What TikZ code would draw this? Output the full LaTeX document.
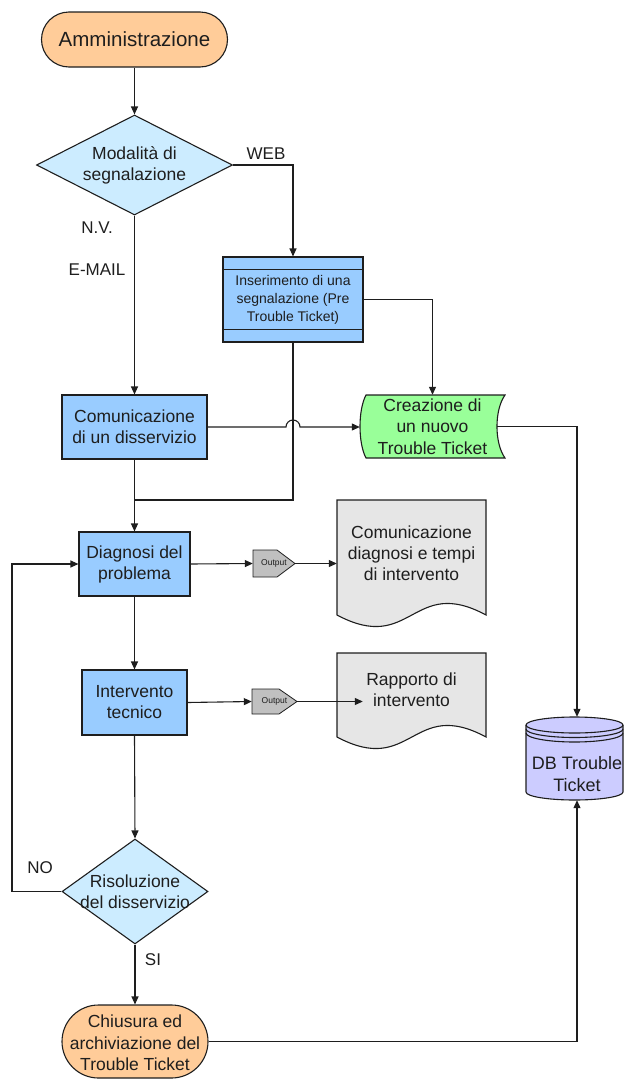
\documentclass[tikz,border=0pt]{standalone}
\usepackage{fontspec}
\setmainfont{Liberation Sans}
\usetikzlibrary{arrows.meta,shapes.geometric,shapes.misc}
\pgfdeclarelayer{bg}
\pgfsetlayers{bg,main}
\definecolor{orangef}{HTML}{FFCC99}
\definecolor{diamf}{HTML}{CCECFF}
\definecolor{boxf}{HTML}{99CCFF}
\definecolor{greenf}{HTML}{99FF99}
\definecolor{outf}{HTML}{C0C0C0}
\definecolor{docf}{HTML}{E6E6E6}
\definecolor{dbf}{HTML}{CCCCFF}
\definecolor{linec}{HTML}{1E1E1E}
\definecolor{textc}{HTML}{1E1E1E}
\begin{document}
\begin{tikzpicture}[x=1pt,y=-1pt,
  line/.style={draw=linec, line width=1.1pt},
  arr/.style={line, -{Triangle[length=8pt,width=7pt]}},
  txt/.style={font=\fontsize{17.5}{21}\selectfont, text=textc, align=center},
  lbl/.style={font=\fontsize{17}{20}\selectfont, text=textc, inner sep=0pt},
  procbox/.style={rectangle, line, fill=boxf, inner sep=0pt, txt},
  decis/.style={diamond, line, fill=diamf, inner sep=0pt},
  term/.style={rounded rectangle, line, fill=orangef, inner sep=0pt},
  ghost/.style={rectangle, draw=none, inner sep=0pt},
]
\useasboundingbox (0,0) rectangle (624,1079);

% ---------- nodes ----------
\node[term, minimum width=186pt, minimum height=55pt,
      label={[txt, font=\fontsize{20.5}{24}\selectfont]center:Amministrazione}] (amm) at (134.5,39.5) {};

\node[decis, minimum width=196pt, minimum height=100pt,
      label={[txt]center:Modalità di\\segnalazione}] (mod) at (134.5,165) {};

\node[procbox, minimum width=140pt, minimum height=85pt,
      font=\fontsize{14}{18}\selectfont] (ins) at (293,299.5)
      {Inserimento di una\\segnalazione (Pre\\Trouble Ticket)};
\draw[line] ([yshift=-13pt]ins.north west) -- ([yshift=-13pt]ins.north east);
\draw[line] ([yshift=13pt]ins.south west) -- ([yshift=13pt]ins.south east);

\node[procbox, minimum width=145pt, minimum height=64pt] (com) at (134.5,427)
      {Comunicazione\\di un disservizio};

\node[ghost, minimum width=145pt, minimum height=63pt, txt,
      font=\fontsize{17.5}{21.5}\selectfont] (cre) at (432.5,426.5)
      {Creazione di\\un nuovo\\Trouble Ticket};

\node[procbox, minimum width=111pt, minimum height=64pt] (dia) at (134.5,564)
      {Diagnosi del\\problema};

\node[ghost, minimum width=42pt, minimum height=27pt,
      font=\fontsize{8.5}{9}\selectfont, text=textc] (out1) at (274,563.5) {Output};

\node[ghost, minimum width=149pt, minimum height=115pt,
      label={[txt, yshift=4.5pt]center:Comunicazione\\diagnosi e tempi\\di intervento}] (doc1) at (411.5,557.5) {};

\node[procbox, minimum width=105pt, minimum height=65pt] (int) at (134.5,702.5)
      {Intervento\\tecnico};

\node[ghost, minimum width=45pt, minimum height=25pt,
      font=\fontsize{8.5}{9}\selectfont, text=textc] (out2) at (274.5,701.5) {Output};

\node[ghost, minimum width=97pt, minimum height=84pt,
      label={[txt, yshift=5pt]center:Rapporto di\\intervento}] (doc2) at (411.5,695) {};

\node[ghost, minimum width=97pt, minimum height=83pt,
      label={[txt, yshift=-15.5pt, font=\fontsize{18}{22}\selectfont]center:DB Trouble\\Ticket}] (db) at (577,758.5) {};

\node[decis, minimum width=146pt, minimum height=105pt,
      label={[txt]center:Risoluzione\\del disservizio}] (ris) at (135,891.5) {};

\node[term, minimum width=146pt, minimum height=73pt,
      label={[txt, yshift=-1.5pt, font=\fontsize{17.5}{21.5}\selectfont]center:Chiusura ed\\archiviazione del\\Trouble Ticket}] (chi) at (135,1041.5) {};

% labels
\node[lbl] (web) at (266,154) {WEB};
\node[lbl] (nv) at (97,228) {N.V.};
\node[lbl] (email) at (97,270) {E-MAIL};
\node[lbl] (no) at (40,868) {NO};
\node[lbl] (si) at (153,960) {SI};

% ---------- background shapes ----------
\begin{pgfonlayer}{bg}
  % Creazione (stored data)
  \filldraw[line, fill=greenf]
    (366,395) -- (505,395) .. controls (494.3,410) and (494.3,443) .. (505,458)
    -- (366,458) .. controls (358,443) and (358,410) .. (366,395) -- cycle;
  % outputs
  \filldraw[line, fill=outf, line width=0.8pt]
    (253,550) -- (277,550) -- (295,563.5) -- (277,577) -- (253,577) -- cycle;
  \filldraw[line, fill=outf, line width=0.8pt]
    (252,689) -- (279,689) -- (297,701.5) -- (279,714) -- (252,714) -- cycle;
  % documents
  \filldraw[line, fill=docf]
    (337,500) -- (486,500) -- (486,615) .. controls (412,575) and (412,655) .. (337,615) -- cycle;
  \filldraw[line, fill=docf]
    (337,653) -- (486,653) -- (486,737) .. controls (412,697) and (412,777) .. (337,737) -- cycle;
  % DB cylinder
  \filldraw[line, fill=dbf]
    (526,725) -- (526,792) arc[start angle=180, end angle=0, x radius=48.5, y radius=8]
    -- (623,725) arc[start angle=0, end angle=-180, x radius=48.5, y radius=8] -- cycle;
  \draw[line] (526,725) arc[start angle=180, end angle=0, x radius=48.5, y radius=8];
  \draw[line] (526,729) arc[start angle=180, end angle=0, x radius=48.5, y radius=8.5];
  \draw[line] (526,733) arc[start angle=180, end angle=0, x radius=48.5, y radius=9];
\end{pgfonlayer}

% ---------- connectors ----------
\coordinate (join) at (134.5,500);
\coordinate (loopx) at (12,0);

\draw[arr] (amm.south) -- (mod.north);
\draw[arr] (mod.east) -| (ins.north);
\draw[arr] (mod.south) -- (com.north);
\draw[arr] (ins.east) -| (cre.north);
\draw[line] (ins.south) |- (join);
\draw[arr] (com.east) -- ([xshift=-7pt]ins.south |- com.east)
   arc[start angle=180, end angle=360, radius=7] -- (cre.west |- com.east);
\draw[line] ([xshift=-8pt]cre.east) -- (cre.east);
\draw[arr] (cre.east) -| (db.north);
\draw[arr] (com.south) -- (dia.north);
\draw[arr] (dia.east) -- (out1.west);
\draw[arr] (out1.east) -- (out1.east -| doc1.west);
\draw[arr] (dia.south) -- (int.north);
\draw[arr] (int.east) -- (out2.west);
\draw[arr] (out2.east) -- (out2.east -| doc2.west);
\draw[arr] (int.south) -- (ris.north);
\draw[arr] (ris.west) -- (ris.west -| loopx) |- (dia.west);
\draw[arr] (ris.south) -- (chi.north);
\draw[arr] (chi.east) -| (db.south);
\end{tikzpicture}
\end{document}
